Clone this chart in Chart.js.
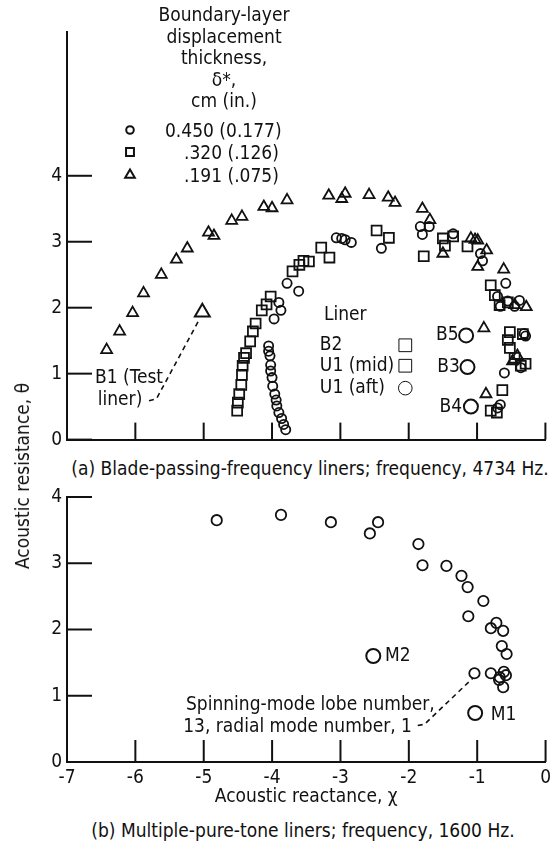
<!DOCTYPE html>
<html>
<head>
<meta charset="utf-8">
<script src="https://cdn.jsdelivr.net/npm/chart.js@4.4.1/dist/chart.umd.min.js"></script>
<style>
body{margin:0;background:#fff;width:556px;height:849px;position:relative;overflow:hidden;font-family:'Liberation Sans Narrow','DejaVu Sans Condensed',sans-serif;color:#111}
canvas{position:absolute;left:0}
.t{position:absolute;white-space:nowrap;font-size:19px;line-height:22px}
#lgTitle{left:114px;top:4px;width:220px;text-align:center;line-height:21.5px}
#ylab{left:22px;top:476px;transform:translate(-50%,-50%) rotate(-90deg);font-size:19px}
</style>
</head>
<body>
<canvas id="c1" width="556" height="456" style="top:0"></canvas>
<canvas id="c2" width="556" height="330" style="top:480px"></canvas>

<div class="t" id="lgTitle">Boundary-layer<br>displacement<br>thickness,<br>δ*,<br>cm (in.)</div>
<div class="t" style="left:165px;top:119px">0.450 (0.177)</div>
<div class="t" style="left:184px;top:141px">.320 (.126)</div>
<div class="t" style="left:184px;top:164px">.191 (.075)</div>
<div class="t" id="ylab">Acoustic resistance, θ</div>
<div class="t" style="left:310px;top:457px;transform:translateX(-50%)">(a) Blade-passing-frequency liners; frequency, 4734 Hz.</div>
<div class="t" style="left:303px;top:819px;transform:translateX(-50%)">(b) Multiple-pure-tone liners; frequency, 1600 Hz.</div>

<script>
// (a) blade-passing-frequency liners, 4734 Hz
const xTicks = [-7, -6, -5, -4, -3, -2, -1, 0];
const yTicks = [0, 1, 2, 3, 4];

// delta* = 0.450 cm (circles)
const cirX = [-4.05,-4.05,-4.03,-4.02,-4.02,-4.00,-3.99,-3.96,-3.94,-3.93,-3.90,-3.86,-3.83,-3.80,-3.97,-3.87,-3.90,-3.78,-3.61,-3.06,-2.98,-2.93,-2.84,-2.40,-1.83,-1.70,-1.80,-1.35,-0.95,-0.92,-0.58,-0.70,-0.55,-0.66,-0.45,-0.38,-0.31,-0.29,-0.60,-0.36,-0.66,-0.70];
const cirY = [1.42,1.34,1.27,1.13,1.04,0.94,0.81,0.69,0.60,0.51,0.41,0.32,0.23,0.15,1.83,1.96,2.08,2.37,2.25,3.06,3.05,3.03,2.99,2.90,3.23,3.23,3.11,3.12,2.82,2.71,2.37,2.17,2.10,2.02,2.02,2.11,1.61,1.57,1.01,1.09,0.53,0.48];
// delta* = 0.320 cm (squares)
const sqX = [-4.51,-4.50,-4.48,-4.45,-4.44,-4.43,-4.41,-4.38,-4.32,-4.28,-4.24,-4.15,-4.08,-4.02,-3.70,-3.60,-3.54,-3.46,-3.28,-3.16,-2.47,-2.29,-1.78,-1.50,-1.47,-1.35,-1.14,-0.80,-0.74,-0.67,-0.55,-0.52,-0.55,-0.52,-0.45,-0.36,-0.29,-0.63,-0.80,-0.71,-0.33];
const sqY = [0.44,0.56,0.69,0.83,0.98,1.12,1.24,1.31,1.49,1.64,1.76,1.96,2.05,2.17,2.55,2.65,2.71,2.70,2.91,2.76,3.17,3.06,2.78,3.05,2.94,3.08,2.93,2.34,2.19,2.04,2.08,1.63,1.51,1.39,1.24,1.12,1.15,0.75,0.44,0.41,1.60];
// delta* = 0.191 cm (triangles)
const triX = [-6.42,-6.23,-6.04,-5.88,-5.62,-5.40,-5.24,-4.93,-4.85,-4.59,-4.44,-4.12,-4.00,-3.78,-3.17,-2.98,-2.93,-2.58,-2.30,-2.20,-1.80,-1.69,-1.50,-1.09,-1.03,-0.99,-0.86,-0.99,-0.61,-0.28,-0.45,-0.90,-0.87,-0.41,-0.48];
const triY = [1.36,1.64,1.92,2.22,2.50,2.73,2.90,3.14,3.09,3.32,3.38,3.53,3.51,3.63,3.70,3.65,3.73,3.71,3.67,3.59,3.50,3.33,2.82,3.05,3.03,3.02,2.87,2.62,2.58,2.01,2.04,1.69,0.69,1.27,1.19];

// named liners (a)
const b1X = [-5.02], b1Y = [1.93];
const bNames = ['B5', 'B3', 'B4'];
const bX = [-1.16, -1.14, -1.09];
const bY = [1.58, 1.10, 0.50];

// (b) multiple-pure-tone liners, 1600 Hz
const mptX = [-4.81,-3.87,-3.14,-2.57,-2.45,-1.86,-1.80,-1.45,-1.23,-1.14,-0.91,-1.13,-0.72,-0.80,-0.62,-0.64,-0.57,-1.04,-0.80,-0.67,-0.61,-0.58,-0.68,-0.62];
const mptY = [3.65,3.73,3.62,3.45,3.62,3.29,2.97,2.96,2.81,2.64,2.43,2.20,2.10,2.02,1.98,1.75,1.63,1.34,1.34,1.28,1.36,1.31,1.24,1.13];
const mNames = ['M2', 'M1'];
const mX = [-2.52, -1.03];
const mY = [1.60, 0.74];

const INK = '#111';
const FONT = "19px 'Liberation Sans Narrow', 'DejaVu Sans Condensed', sans-serif";
const pts = (xs, ys) => xs.map((x, i) => ({x, y: ys[i]}));

// annotation text / leaders, in data units
const topNotes = [
  {t:'Liner', x:-3.24, y:1.89},
  {t:'B2', x:-3.30, y:1.43}, {t:'U1 (mid)', x:-3.30, y:1.12}, {t:'U1 (aft)', x:-3.30, y:0.78},
  {t:bNames[0], x:-1.27, y:bY[0], a:'right'}, {t:bNames[1], x:-1.25, y:bY[1], a:'right'}, {t:bNames[2], x:-1.22, y:bY[2], a:'right'},
  {t:'B1 (Test', x:-6.59, y:0.94}, {t:'liner)', x:-6.55, y:0.60}
];
const topKeys = [{s:'rect', x:-2.05, y:1.43}, {s:'rect', x:-2.05, y:1.12}, {s:'circle', x:-2.05, y:0.78}];
const topLeader = [[-5.80,0.59],[-5.69,0.62],[-5.07,1.81]];
const botNotes = [
  {t:mNames[0], x:-2.35, y:mY[0]}, {t:mNames[1], x:-0.80, y:0.71},
  {t:'Spinning-mode lobe number,', x:-5.26, y:0.86},
  {t:'13, radial mode number, 1', x:-5.30, y:0.53}
];
const botLeader = [[-1.87,0.55],[-1.77,0.57],[-1.06,1.27]];

const inTicks = {
  id: 'inTicks',
  afterDatasetsDraw(chart, args, o) {
    const {ctx, chartArea: a, scales: {x, y}} = chart;
    ctx.save(); ctx.strokeStyle = INK; ctx.lineWidth = 2;
    x.ticks.forEach(t => { const p = x.getPixelForValue(t.value); ctx.beginPath(); ctx.moveTo(p, a.bottom); ctx.lineTo(p, a.bottom - o.xLen); ctx.stroke(); });
    y.ticks.forEach(t => { const p = y.getPixelForValue(t.value); ctx.beginPath(); ctx.moveTo(a.left, p); ctx.lineTo(a.left + o.yLen, p); ctx.stroke(); });
    ctx.restore();
  }
};

const notes = {
  id: 'notes',
  afterDatasetsDraw(chart, args, o) {
    const {ctx, scales: {x, y}} = chart;
    ctx.save();
    ctx.fillStyle = INK; ctx.strokeStyle = INK; ctx.font = FONT;
    ctx.textBaseline = 'middle';
    (o.text || []).forEach(n => { ctx.textAlign = n.a || 'left'; ctx.fillText(n.t, x.getPixelForValue(n.x), y.getPixelForValue(n.y)); });
    ctx.fillStyle = 'rgba(0,0,0,0)';
    (o.keys || []).forEach(k => {
      Chart.helpers.drawPoint(ctx, {pointStyle: k.s, radius: k.s === 'rect' ? 9 : 6.8, borderWidth: 2}, x.getPixelForValue(k.x), y.getPixelForValue(k.y));
    });
    if (o.leader) {
      ctx.lineWidth = 1.6; ctx.setLineDash([5, 4]);
      ctx.beginPath();
      o.leader.forEach(([lx, ly], i) => { const px = x.getPixelForValue(lx), py = y.getPixelForValue(ly); i ? ctx.lineTo(px, py) : ctx.moveTo(px, py); });
      ctx.stroke();
    }
    ctx.restore();
  }
};

// legend keys for the boundary-layer thickness block
const deltaKeys = {
  id: 'deltaKeys',
  afterDraw(chart) {
    const ctx = chart.ctx;
    ctx.save(); ctx.strokeStyle = INK; ctx.fillStyle = 'rgba(0,0,0,0)'; ctx.lineWidth = 2;
    [['circle', 3.8, 130], ['rect', 5.6, 152], ['triangle', 5.6, 175]].forEach(([s, r, py]) => {
      Chart.helpers.drawPoint(ctx, {pointStyle: s, radius: r, borderWidth: 2}, 130, py);
    });
    ctx.restore();
  }
};

function series(data, style, r, bw) {
  return {data, pointStyle: style, pointRadius: r, borderColor: INK, backgroundColor: 'rgba(0,0,0,0)', pointBorderWidth: bw, showLine: false};
}

const tickFont = {family: "'Liberation Sans Narrow', 'DejaVu Sans Condensed', sans-serif", size: 19};

function axes(ymax, xLabels, yFit, xFit, xTitle) {
  return {
    x: {
      type: 'linear', min: -7, max: 0,
      afterBuildTicks: s => { s.ticks = xTicks.map(v => ({value: v})); },
      afterFit: s => { s.height = xFit; },
      grid: {display: false, drawTicks: false},
      border: {display: true, color: INK, width: 2},
      ticks: {display: xLabels, padding: 5, color: INK, font: tickFont},
      title: xTitle ? {display: true, text: xTitle, color: INK, padding: {top: 0, bottom: 2}, font: tickFont} : {display: false}
    },
    y: {
      type: 'linear', min: 0, max: ymax,
      afterBuildTicks: s => { s.ticks = yTicks.map(v => ({value: v})); },
      afterFit: s => { s.width = yFit; },
      grid: {display: false, drawTicks: false},
      border: {display: true, color: INK, width: 2},
      ticks: {padding: 5, color: INK, font: tickFont}
    }
  };
}

const common = {
  responsive: false, animation: false, devicePixelRatio: 1, events: [],
  plugins: {legend: {display: false}, tooltip: {enabled: false}}
};

new Chart(document.getElementById('c1'), {
  type: 'scatter',
  data: {datasets: [
    series(pts(cirX, cirY), 'circle', 4.6, 1.8),
    series(pts(sqX, sqY), 'rect', 7, 1.8),
    series(pts(triX, triY), 'triangle', 6.3, 1.8),
    series(pts(b1X, b1Y), 'triangle', 8.6, 2),
    series(pts(bX, bY), 'circle', 7, 2)
  ]},
  options: {...common,
    layout: {padding: {top: 32, right: 8, left: 0, bottom: 0}},
    scales: axes(6.18, false, 67, 14),
    plugins: {...common.plugins,
      inTicks: {xLen: 17, yLen: 25},
      notes: {text: topNotes, keys: topKeys, leader: topLeader}
    }
  },
  plugins: [inTicks, notes, deltaKeys]
});

new Chart(document.getElementById('c2'), {
  type: 'scatter',
  data: {datasets: [
    series(pts(mptX, mptY), 'circle', 5.2, 1.8),
    series(pts(mX, mY), 'circle', 7, 2)
  ]},
  options: {...common,
    layout: {padding: {top: 17, right: 6, left: 0, bottom: 0}},
    scales: axes(4, true, 67, 48, 'Acoustic reactance, χ'),
    plugins: {...common.plugins,
      inTicks: {xLen: 22, yLen: 25},
      notes: {text: botNotes, leader: botLeader}
    }
  },
  plugins: [inTicks, notes]
});
</script>
</body>
</html>
